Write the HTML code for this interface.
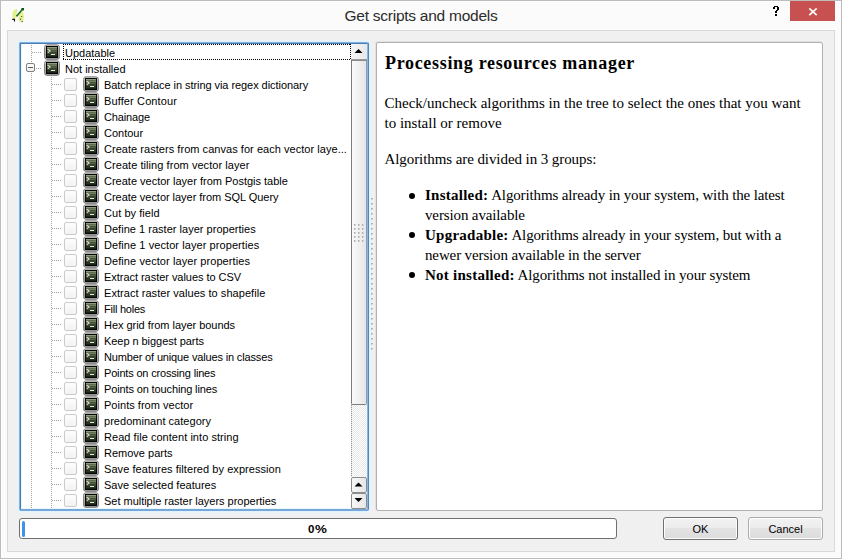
<!DOCTYPE html>
<html><head><meta charset="utf-8">
<style>
*{margin:0;padding:0;box-sizing:border-box}
html,body{width:842px;height:559px;overflow:hidden;background:#fafafa}
body{position:relative;font-family:"Liberation Sans",sans-serif}
.abs{position:absolute}
#frame{left:0;top:0;width:842px;height:559px;border:1px solid #bcbcbc;background:#fbfbfb;box-shadow:inset 1px 1px 0 #fff}
#title{left:0;top:6px;width:842px;text-align:center;font-size:15.5px;letter-spacing:-0.25px;color:#2b2b2b;line-height:20px}
#help{left:771px;top:3px;font-size:14px;font-weight:bold;color:#000;line-height:18px}
#close{left:790px;top:1px;width:45px;height:20px;background:#c75050}
#client{left:7px;top:30px;width:828px;height:522px;border:1px solid #d9d9d9;background:#f0f0f0}
#treew{left:19px;top:42px;width:350px;height:469px;border:1px solid #84afdc;border-right-color:#5286c0;border-bottom-color:#78a6d8;border-radius:2px;box-shadow:0 0 0 1px #dff3fd,0 0 0 2px #eaf3f8}
#tree{left:20px;top:43px;width:348px;height:467px;border:1px solid #4a7db5;border-right-color:#8ab6e2;border-bottom-color:#78a6d8;background:#fff;box-shadow:inset 1px 0 0 #e6f9ff,inset 0 -1px 0 #e6f9ff;overflow:hidden}
#panel{left:376px;top:42px;width:447px;height:469px;border:1px solid #b0b0b0;border-radius:2px;box-shadow:-1px -1px 0 0 #e2e2e2;background:#fff;font-family:"Liberation Serif",serif;color:#000}
.row{position:absolute;height:16px;font-size:11px;line-height:16px;color:#000;white-space:nowrap}
.ico{position:absolute;width:16px;height:16px}
.cb{position:absolute;width:13px;height:13px;border:1px solid #cbcbcb;background:linear-gradient(#fdfdfd,#f2f2f2);border-radius:2px}
.vd{position:absolute;width:1px;background:repeating-linear-gradient(to bottom,#a3a3a3 0 1px,transparent 1px 2px)}
.hd{position:absolute;height:1px;background:repeating-linear-gradient(to right,#a3a3a3 0 1px,transparent 1px 2px)}
.box{position:absolute;width:9px;height:9px;border:1px solid #808080;border-radius:2px;background:linear-gradient(#fff,#ededed)}
.box::after{content:"";position:absolute;left:1px;top:3px;width:5px;height:1px;background:#5c5c5c}
.focus{position:absolute;background:repeating-linear-gradient(to right,#000 0 1px,transparent 1px 2px) top/100% 1px no-repeat,repeating-linear-gradient(to right,#000 0 1px,transparent 1px 2px) bottom/100% 1px no-repeat,repeating-linear-gradient(to bottom,#000 0 1px,transparent 1px 2px) left/1px 100% no-repeat,repeating-linear-gradient(to bottom,#000 0 1px,transparent 1px 2px) right/1px 100% no-repeat}
#sb{position:absolute;left:330px;top:0;width:16px;height:465px}
.sbtop{position:absolute;left:0;top:0;width:16px;height:16px;background:linear-gradient(to right,#f6f6f6,#e8e8e8);border-bottom:1px solid #9a9a9a}
.thumb{position:absolute;left:0;top:16px;width:16px;height:345px;border:1px solid #7c7c7c;border-top-color:#8a8a8a;border-right-color:#8a9cb0;border-radius:0 0 2px 2px;background:linear-gradient(to right,#fafafa,#e6e6e6)}
.track{position:absolute;left:0;top:361px;width:16px;height:72px;background-color:#fff;background-image:linear-gradient(45deg,#e8e8e8 25%,transparent 25%,transparent 75%,#e8e8e8 75%),linear-gradient(45deg,#e8e8e8 25%,transparent 25%,transparent 75%,#e8e8e8 75%);background-size:2px 2px;background-position:0 0,1px 1px}
.track::before{content:"";position:absolute;left:0;top:0;width:1px;height:100%;background:repeating-linear-gradient(to bottom,#949494 0 1px,transparent 1px 2px)}
.sbtn{position:absolute;left:0;width:16px;height:16px;border:1px solid #8c8c8c;border-radius:2px;background:linear-gradient(to right,#f8f8f8,#e6e6e6)}
#prog{left:19px;top:518px;width:598px;height:21px;border:1px solid #707070;border-radius:3px;background:#fff}
#prog .chunk{position:absolute;left:1.5px;top:1.5px;width:3.5px;height:16px;border-radius:1.75px;background:#3d92ea}
#prog .txt{position:absolute;left:0;top:0;width:100%;text-align:center;font-size:11px;font-weight:bold;line-height:19px;color:#000}
.btn{position:absolute;height:23px;border:1px solid #acacac;border-radius:3px;box-shadow:inset 0 0 0 1px #fcfcfc;background:linear-gradient(#f3f3f3,#ececec 45%,#e3e3e3 50%,#dcdcdc);font-size:11px;text-align:center;line-height:23px;color:#000}
.li{position:absolute;left:48px;font-size:15px;line-height:20px;white-space:nowrap;letter-spacing:-0.13px}
.li b{letter-spacing:0.25px}
.bul{position:absolute;left:32px;width:6px;height:6px;border-radius:50%;background:#000}
</style></head><body>
<svg width="0" height="0" style="position:absolute">
 <defs>
  <linearGradient id="rim" x1="0" y1="0" x2="0" y2="1"><stop offset="0" stop-color="#cecece"/><stop offset="1" stop-color="#959595"/></linearGradient>
  <linearGradient id="scr" x1="0" y1="0" x2="0" y2="1"><stop offset="0" stop-color="#96a682"/><stop offset="0.45" stop-color="#505e42"/><stop offset="1" stop-color="#1c2416"/></linearGradient>
  
 </defs>
</svg>
<div id="frame" class="abs"></div>
<svg class="abs" style="left:6px;top:4px" width="24" height="24" viewBox="0 0 24 24">
 <path d="M9.5 5.2 C6.3 6 5.5 11.5 7.2 14.8 C8 15.5 9.2 14.6 10.2 13.2 L10.6 7 C10.5 5.8 10.1 5.2 9.5 5.2 Z" fill="#e3f08e"/>
 <path d="M15.8 7.5 C18.5 9 18.6 15.5 16.5 18 C14.6 18.6 12.5 17 12.2 15 L13.6 9.5 C14.2 8 15 7.3 15.8 7.5 Z" fill="#e6f290"/>
 <path d="M10 5.6 L11 6.2 M10.6 7.4 L11 8.3" stroke="#b8b8a8" stroke-width="0.8"/>
 <path d="M16.6 5.3 L10.4 12.4" stroke="#1d7418" stroke-width="1.6"/>
 <rect x="15.4" y="4" width="2.6" height="2.4" fill="#0f5c0c"/>
 <path d="M6.2 15.4 H8.5 V17.6" fill="none" stroke="#111" stroke-width="1.1"/>
 <rect x="15.2" y="12" width="1" height="1" fill="#3a3a3a"/><rect x="14" y="14.6" width="1.1" height="1.1" fill="#3a3a3a"/><rect x="15.6" y="17" width="1.1" height="1.1" fill="#3a3a3a"/>
</svg>
<div id="title" class="abs">Get scripts and models</div>
<svg class="abs" style="left:772px;top:6px" width="8" height="10"><g fill="#000">
<rect x="2" y="0" width="4" height="1"/><rect x="1" y="1" width="2" height="2"/><rect x="5" y="1" width="2" height="3"/>
<rect x="4" y="4" width="2" height="1"/><rect x="3" y="5" width="2" height="2"/><rect x="3" y="8" width="2" height="2"/></g></svg>
<div id="close" class="abs"><svg width="45" height="20" style="position:absolute;left:0;top:0"><path d="M19.3 7.3 L26.7 14.2 M26.7 7.3 L19.3 14.2" stroke="#fff" stroke-width="1.6"/></svg></div>
<div id="client" class="abs"></div>
<div id="treew" class="abs"></div>
<div id="tree" class="abs">
<div class="vd" style="left:10px;top:1px;height:18px"></div>
<div class="vd" style="left:10px;top:29px;height:435px"></div>
<div class="hd" style="left:11px;top:8px;width:9px"></div>
<div class="box" style="left:5px;top:19px"></div>
<div class="hd" style="left:15px;top:24px;width:5px"></div>
<div class="vd" style="left:30px;top:33px;height:431px"></div>
<svg class="ico" style="left:23px;top:0px" width="16" height="16" viewBox="0 0 16 16"><rect x="0.5" y="0.8" width="15" height="14.6" rx="2.6" fill="url(#rim)" stroke="#848484" stroke-width="1"/> <rect x="2" y="2" width="12" height="12" fill="#050505"/> <rect x="3" y="3" width="10" height="10" fill="url(#scr)"/> <g fill="#000" opacity="0.22"><rect x="3" y="4" width="10" height="1"/><rect x="3" y="6" width="10" height="1"/><rect x="3" y="8" width="10" height="1"/><rect x="3" y="10" width="10" height="1"/><rect x="3" y="12" width="10" height="1"/></g> <path d="M3.7 5.3 L6.1 7.1 L3.7 8.9" fill="none" stroke="#d4dec4" stroke-width="1.1"/> <rect x="7" y="10" width="4" height="1" fill="#e4ecd8"/></svg>
<div class="row" style="left:44px;top:1px">Updatable</div>
<svg class="ico" style="left:23px;top:16px" width="16" height="16" viewBox="0 0 16 16"><rect x="0.5" y="0.8" width="15" height="14.6" rx="2.6" fill="url(#rim)" stroke="#848484" stroke-width="1"/> <rect x="2" y="2" width="12" height="12" fill="#050505"/> <rect x="3" y="3" width="10" height="10" fill="url(#scr)"/> <g fill="#000" opacity="0.22"><rect x="3" y="4" width="10" height="1"/><rect x="3" y="6" width="10" height="1"/><rect x="3" y="8" width="10" height="1"/><rect x="3" y="10" width="10" height="1"/><rect x="3" y="12" width="10" height="1"/></g> <path d="M3.7 5.3 L6.1 7.1 L3.7 8.9" fill="none" stroke="#d4dec4" stroke-width="1.1"/> <rect x="7" y="10" width="4" height="1" fill="#e4ecd8"/></svg>
<div class="row" style="left:44px;top:17px">Not installed</div>
<div class="focus" style="left:42px;top:0px;width:288px;height:16px"></div>
<div class="hd" style="left:31px;top:40px;width:9px"></div>
<div class="cb" style="left:43px;top:34px"></div>
<svg class="ico" style="left:62px;top:32px" width="16" height="16" viewBox="0 0 16 16"><rect x="0.5" y="0.8" width="15" height="14.6" rx="2.6" fill="url(#rim)" stroke="#848484" stroke-width="1"/> <rect x="2" y="2" width="12" height="12" fill="#050505"/> <rect x="3" y="3" width="10" height="10" fill="url(#scr)"/> <g fill="#000" opacity="0.22"><rect x="3" y="4" width="10" height="1"/><rect x="3" y="6" width="10" height="1"/><rect x="3" y="8" width="10" height="1"/><rect x="3" y="10" width="10" height="1"/><rect x="3" y="12" width="10" height="1"/></g> <path d="M3.7 5.3 L6.1 7.1 L3.7 8.9" fill="none" stroke="#d4dec4" stroke-width="1.1"/> <rect x="7" y="10" width="4" height="1" fill="#e4ecd8"/></svg>
<div class="row" style="left:83px;top:33px;letter-spacing:-0.058px">Batch replace in string via regex dictionary</div>
<div class="hd" style="left:31px;top:56px;width:9px"></div>
<div class="cb" style="left:43px;top:50px"></div>
<svg class="ico" style="left:62px;top:48px" width="16" height="16" viewBox="0 0 16 16"><rect x="0.5" y="0.8" width="15" height="14.6" rx="2.6" fill="url(#rim)" stroke="#848484" stroke-width="1"/> <rect x="2" y="2" width="12" height="12" fill="#050505"/> <rect x="3" y="3" width="10" height="10" fill="url(#scr)"/> <g fill="#000" opacity="0.22"><rect x="3" y="4" width="10" height="1"/><rect x="3" y="6" width="10" height="1"/><rect x="3" y="8" width="10" height="1"/><rect x="3" y="10" width="10" height="1"/><rect x="3" y="12" width="10" height="1"/></g> <path d="M3.7 5.3 L6.1 7.1 L3.7 8.9" fill="none" stroke="#d4dec4" stroke-width="1.1"/> <rect x="7" y="10" width="4" height="1" fill="#e4ecd8"/></svg>
<div class="row" style="left:83px;top:49px;letter-spacing:0.123px">Buffer Contour</div>
<div class="hd" style="left:31px;top:72px;width:9px"></div>
<div class="cb" style="left:43px;top:66px"></div>
<svg class="ico" style="left:62px;top:64px" width="16" height="16" viewBox="0 0 16 16"><rect x="0.5" y="0.8" width="15" height="14.6" rx="2.6" fill="url(#rim)" stroke="#848484" stroke-width="1"/> <rect x="2" y="2" width="12" height="12" fill="#050505"/> <rect x="3" y="3" width="10" height="10" fill="url(#scr)"/> <g fill="#000" opacity="0.22"><rect x="3" y="4" width="10" height="1"/><rect x="3" y="6" width="10" height="1"/><rect x="3" y="8" width="10" height="1"/><rect x="3" y="10" width="10" height="1"/><rect x="3" y="12" width="10" height="1"/></g> <path d="M3.7 5.3 L6.1 7.1 L3.7 8.9" fill="none" stroke="#d4dec4" stroke-width="1.1"/> <rect x="7" y="10" width="4" height="1" fill="#e4ecd8"/></svg>
<div class="row" style="left:83px;top:65px;letter-spacing:-0.143px">Chainage</div>
<div class="hd" style="left:31px;top:88px;width:9px"></div>
<div class="cb" style="left:43px;top:82px"></div>
<svg class="ico" style="left:62px;top:80px" width="16" height="16" viewBox="0 0 16 16"><rect x="0.5" y="0.8" width="15" height="14.6" rx="2.6" fill="url(#rim)" stroke="#848484" stroke-width="1"/> <rect x="2" y="2" width="12" height="12" fill="#050505"/> <rect x="3" y="3" width="10" height="10" fill="url(#scr)"/> <g fill="#000" opacity="0.22"><rect x="3" y="4" width="10" height="1"/><rect x="3" y="6" width="10" height="1"/><rect x="3" y="8" width="10" height="1"/><rect x="3" y="10" width="10" height="1"/><rect x="3" y="12" width="10" height="1"/></g> <path d="M3.7 5.3 L6.1 7.1 L3.7 8.9" fill="none" stroke="#d4dec4" stroke-width="1.1"/> <rect x="7" y="10" width="4" height="1" fill="#e4ecd8"/></svg>
<div class="row" style="left:83px;top:81px;letter-spacing:0.000px">Contour</div>
<div class="hd" style="left:31px;top:104px;width:9px"></div>
<div class="cb" style="left:43px;top:98px"></div>
<svg class="ico" style="left:62px;top:96px" width="16" height="16" viewBox="0 0 16 16"><rect x="0.5" y="0.8" width="15" height="14.6" rx="2.6" fill="url(#rim)" stroke="#848484" stroke-width="1"/> <rect x="2" y="2" width="12" height="12" fill="#050505"/> <rect x="3" y="3" width="10" height="10" fill="url(#scr)"/> <g fill="#000" opacity="0.22"><rect x="3" y="4" width="10" height="1"/><rect x="3" y="6" width="10" height="1"/><rect x="3" y="8" width="10" height="1"/><rect x="3" y="10" width="10" height="1"/><rect x="3" y="12" width="10" height="1"/></g> <path d="M3.7 5.3 L6.1 7.1 L3.7 8.9" fill="none" stroke="#d4dec4" stroke-width="1.1"/> <rect x="7" y="10" width="4" height="1" fill="#e4ecd8"/></svg>
<div class="row" style="left:83px;top:97px;letter-spacing:0.041px">Create rasters from canvas for each vector laye...</div>
<div class="hd" style="left:31px;top:120px;width:9px"></div>
<div class="cb" style="left:43px;top:114px"></div>
<svg class="ico" style="left:62px;top:112px" width="16" height="16" viewBox="0 0 16 16"><rect x="0.5" y="0.8" width="15" height="14.6" rx="2.6" fill="url(#rim)" stroke="#848484" stroke-width="1"/> <rect x="2" y="2" width="12" height="12" fill="#050505"/> <rect x="3" y="3" width="10" height="10" fill="url(#scr)"/> <g fill="#000" opacity="0.22"><rect x="3" y="4" width="10" height="1"/><rect x="3" y="6" width="10" height="1"/><rect x="3" y="8" width="10" height="1"/><rect x="3" y="10" width="10" height="1"/><rect x="3" y="12" width="10" height="1"/></g> <path d="M3.7 5.3 L6.1 7.1 L3.7 8.9" fill="none" stroke="#d4dec4" stroke-width="1.1"/> <rect x="7" y="10" width="4" height="1" fill="#e4ecd8"/></svg>
<div class="row" style="left:83px;top:113px;letter-spacing:0.057px">Create tiling from vector layer</div>
<div class="hd" style="left:31px;top:136px;width:9px"></div>
<div class="cb" style="left:43px;top:130px"></div>
<svg class="ico" style="left:62px;top:128px" width="16" height="16" viewBox="0 0 16 16"><rect x="0.5" y="0.8" width="15" height="14.6" rx="2.6" fill="url(#rim)" stroke="#848484" stroke-width="1"/> <rect x="2" y="2" width="12" height="12" fill="#050505"/> <rect x="3" y="3" width="10" height="10" fill="url(#scr)"/> <g fill="#000" opacity="0.22"><rect x="3" y="4" width="10" height="1"/><rect x="3" y="6" width="10" height="1"/><rect x="3" y="8" width="10" height="1"/><rect x="3" y="10" width="10" height="1"/><rect x="3" y="12" width="10" height="1"/></g> <path d="M3.7 5.3 L6.1 7.1 L3.7 8.9" fill="none" stroke="#d4dec4" stroke-width="1.1"/> <rect x="7" y="10" width="4" height="1" fill="#e4ecd8"/></svg>
<div class="row" style="left:83px;top:129px;letter-spacing:-0.003px">Create vector layer from Postgis table</div>
<div class="hd" style="left:31px;top:152px;width:9px"></div>
<div class="cb" style="left:43px;top:146px"></div>
<svg class="ico" style="left:62px;top:144px" width="16" height="16" viewBox="0 0 16 16"><rect x="0.5" y="0.8" width="15" height="14.6" rx="2.6" fill="url(#rim)" stroke="#848484" stroke-width="1"/> <rect x="2" y="2" width="12" height="12" fill="#050505"/> <rect x="3" y="3" width="10" height="10" fill="url(#scr)"/> <g fill="#000" opacity="0.22"><rect x="3" y="4" width="10" height="1"/><rect x="3" y="6" width="10" height="1"/><rect x="3" y="8" width="10" height="1"/><rect x="3" y="10" width="10" height="1"/><rect x="3" y="12" width="10" height="1"/></g> <path d="M3.7 5.3 L6.1 7.1 L3.7 8.9" fill="none" stroke="#d4dec4" stroke-width="1.1"/> <rect x="7" y="10" width="4" height="1" fill="#e4ecd8"/></svg>
<div class="row" style="left:83px;top:145px;letter-spacing:-0.033px">Create vector layer from SQL Query</div>
<div class="hd" style="left:31px;top:168px;width:9px"></div>
<div class="cb" style="left:43px;top:162px"></div>
<svg class="ico" style="left:62px;top:160px" width="16" height="16" viewBox="0 0 16 16"><rect x="0.5" y="0.8" width="15" height="14.6" rx="2.6" fill="url(#rim)" stroke="#848484" stroke-width="1"/> <rect x="2" y="2" width="12" height="12" fill="#050505"/> <rect x="3" y="3" width="10" height="10" fill="url(#scr)"/> <g fill="#000" opacity="0.22"><rect x="3" y="4" width="10" height="1"/><rect x="3" y="6" width="10" height="1"/><rect x="3" y="8" width="10" height="1"/><rect x="3" y="10" width="10" height="1"/><rect x="3" y="12" width="10" height="1"/></g> <path d="M3.7 5.3 L6.1 7.1 L3.7 8.9" fill="none" stroke="#d4dec4" stroke-width="1.1"/> <rect x="7" y="10" width="4" height="1" fill="#e4ecd8"/></svg>
<div class="row" style="left:83px;top:161px;letter-spacing:0.055px">Cut by field</div>
<div class="hd" style="left:31px;top:184px;width:9px"></div>
<div class="cb" style="left:43px;top:178px"></div>
<svg class="ico" style="left:62px;top:176px" width="16" height="16" viewBox="0 0 16 16"><rect x="0.5" y="0.8" width="15" height="14.6" rx="2.6" fill="url(#rim)" stroke="#848484" stroke-width="1"/> <rect x="2" y="2" width="12" height="12" fill="#050505"/> <rect x="3" y="3" width="10" height="10" fill="url(#scr)"/> <g fill="#000" opacity="0.22"><rect x="3" y="4" width="10" height="1"/><rect x="3" y="6" width="10" height="1"/><rect x="3" y="8" width="10" height="1"/><rect x="3" y="10" width="10" height="1"/><rect x="3" y="12" width="10" height="1"/></g> <path d="M3.7 5.3 L6.1 7.1 L3.7 8.9" fill="none" stroke="#d4dec4" stroke-width="1.1"/> <rect x="7" y="10" width="4" height="1" fill="#e4ecd8"/></svg>
<div class="row" style="left:83px;top:177px;letter-spacing:0.023px">Define 1 raster layer properties</div>
<div class="hd" style="left:31px;top:200px;width:9px"></div>
<div class="cb" style="left:43px;top:194px"></div>
<svg class="ico" style="left:62px;top:192px" width="16" height="16" viewBox="0 0 16 16"><rect x="0.5" y="0.8" width="15" height="14.6" rx="2.6" fill="url(#rim)" stroke="#848484" stroke-width="1"/> <rect x="2" y="2" width="12" height="12" fill="#050505"/> <rect x="3" y="3" width="10" height="10" fill="url(#scr)"/> <g fill="#000" opacity="0.22"><rect x="3" y="4" width="10" height="1"/><rect x="3" y="6" width="10" height="1"/><rect x="3" y="8" width="10" height="1"/><rect x="3" y="10" width="10" height="1"/><rect x="3" y="12" width="10" height="1"/></g> <path d="M3.7 5.3 L6.1 7.1 L3.7 8.9" fill="none" stroke="#d4dec4" stroke-width="1.1"/> <rect x="7" y="10" width="4" height="1" fill="#e4ecd8"/></svg>
<div class="row" style="left:83px;top:193px;letter-spacing:0.074px">Define 1 vector layer properties</div>
<div class="hd" style="left:31px;top:216px;width:9px"></div>
<div class="cb" style="left:43px;top:210px"></div>
<svg class="ico" style="left:62px;top:208px" width="16" height="16" viewBox="0 0 16 16"><rect x="0.5" y="0.8" width="15" height="14.6" rx="2.6" fill="url(#rim)" stroke="#848484" stroke-width="1"/> <rect x="2" y="2" width="12" height="12" fill="#050505"/> <rect x="3" y="3" width="10" height="10" fill="url(#scr)"/> <g fill="#000" opacity="0.22"><rect x="3" y="4" width="10" height="1"/><rect x="3" y="6" width="10" height="1"/><rect x="3" y="8" width="10" height="1"/><rect x="3" y="10" width="10" height="1"/><rect x="3" y="12" width="10" height="1"/></g> <path d="M3.7 5.3 L6.1 7.1 L3.7 8.9" fill="none" stroke="#d4dec4" stroke-width="1.1"/> <rect x="7" y="10" width="4" height="1" fill="#e4ecd8"/></svg>
<div class="row" style="left:83px;top:209px;letter-spacing:0.076px">Define vector layer properties</div>
<div class="hd" style="left:31px;top:232px;width:9px"></div>
<div class="cb" style="left:43px;top:226px"></div>
<svg class="ico" style="left:62px;top:224px" width="16" height="16" viewBox="0 0 16 16"><rect x="0.5" y="0.8" width="15" height="14.6" rx="2.6" fill="url(#rim)" stroke="#848484" stroke-width="1"/> <rect x="2" y="2" width="12" height="12" fill="#050505"/> <rect x="3" y="3" width="10" height="10" fill="url(#scr)"/> <g fill="#000" opacity="0.22"><rect x="3" y="4" width="10" height="1"/><rect x="3" y="6" width="10" height="1"/><rect x="3" y="8" width="10" height="1"/><rect x="3" y="10" width="10" height="1"/><rect x="3" y="12" width="10" height="1"/></g> <path d="M3.7 5.3 L6.1 7.1 L3.7 8.9" fill="none" stroke="#d4dec4" stroke-width="1.1"/> <rect x="7" y="10" width="4" height="1" fill="#e4ecd8"/></svg>
<div class="row" style="left:83px;top:225px;letter-spacing:-0.037px">Extract raster values to CSV</div>
<div class="hd" style="left:31px;top:248px;width:9px"></div>
<div class="cb" style="left:43px;top:242px"></div>
<svg class="ico" style="left:62px;top:240px" width="16" height="16" viewBox="0 0 16 16"><rect x="0.5" y="0.8" width="15" height="14.6" rx="2.6" fill="url(#rim)" stroke="#848484" stroke-width="1"/> <rect x="2" y="2" width="12" height="12" fill="#050505"/> <rect x="3" y="3" width="10" height="10" fill="url(#scr)"/> <g fill="#000" opacity="0.22"><rect x="3" y="4" width="10" height="1"/><rect x="3" y="6" width="10" height="1"/><rect x="3" y="8" width="10" height="1"/><rect x="3" y="10" width="10" height="1"/><rect x="3" y="12" width="10" height="1"/></g> <path d="M3.7 5.3 L6.1 7.1 L3.7 8.9" fill="none" stroke="#d4dec4" stroke-width="1.1"/> <rect x="7" y="10" width="4" height="1" fill="#e4ecd8"/></svg>
<div class="row" style="left:83px;top:241px;letter-spacing:0.052px">Extract raster values to shapefile</div>
<div class="hd" style="left:31px;top:264px;width:9px"></div>
<div class="cb" style="left:43px;top:258px"></div>
<svg class="ico" style="left:62px;top:256px" width="16" height="16" viewBox="0 0 16 16"><rect x="0.5" y="0.8" width="15" height="14.6" rx="2.6" fill="url(#rim)" stroke="#848484" stroke-width="1"/> <rect x="2" y="2" width="12" height="12" fill="#050505"/> <rect x="3" y="3" width="10" height="10" fill="url(#scr)"/> <g fill="#000" opacity="0.22"><rect x="3" y="4" width="10" height="1"/><rect x="3" y="6" width="10" height="1"/><rect x="3" y="8" width="10" height="1"/><rect x="3" y="10" width="10" height="1"/><rect x="3" y="12" width="10" height="1"/></g> <path d="M3.7 5.3 L6.1 7.1 L3.7 8.9" fill="none" stroke="#d4dec4" stroke-width="1.1"/> <rect x="7" y="10" width="4" height="1" fill="#e4ecd8"/></svg>
<div class="row" style="left:83px;top:257px;letter-spacing:-0.233px">Fill holes</div>
<div class="hd" style="left:31px;top:280px;width:9px"></div>
<div class="cb" style="left:43px;top:274px"></div>
<svg class="ico" style="left:62px;top:272px" width="16" height="16" viewBox="0 0 16 16"><rect x="0.5" y="0.8" width="15" height="14.6" rx="2.6" fill="url(#rim)" stroke="#848484" stroke-width="1"/> <rect x="2" y="2" width="12" height="12" fill="#050505"/> <rect x="3" y="3" width="10" height="10" fill="url(#scr)"/> <g fill="#000" opacity="0.22"><rect x="3" y="4" width="10" height="1"/><rect x="3" y="6" width="10" height="1"/><rect x="3" y="8" width="10" height="1"/><rect x="3" y="10" width="10" height="1"/><rect x="3" y="12" width="10" height="1"/></g> <path d="M3.7 5.3 L6.1 7.1 L3.7 8.9" fill="none" stroke="#d4dec4" stroke-width="1.1"/> <rect x="7" y="10" width="4" height="1" fill="#e4ecd8"/></svg>
<div class="row" style="left:83px;top:273px;letter-spacing:-0.040px">Hex grid from layer bounds</div>
<div class="hd" style="left:31px;top:296px;width:9px"></div>
<div class="cb" style="left:43px;top:290px"></div>
<svg class="ico" style="left:62px;top:288px" width="16" height="16" viewBox="0 0 16 16"><rect x="0.5" y="0.8" width="15" height="14.6" rx="2.6" fill="url(#rim)" stroke="#848484" stroke-width="1"/> <rect x="2" y="2" width="12" height="12" fill="#050505"/> <rect x="3" y="3" width="10" height="10" fill="url(#scr)"/> <g fill="#000" opacity="0.22"><rect x="3" y="4" width="10" height="1"/><rect x="3" y="6" width="10" height="1"/><rect x="3" y="8" width="10" height="1"/><rect x="3" y="10" width="10" height="1"/><rect x="3" y="12" width="10" height="1"/></g> <path d="M3.7 5.3 L6.1 7.1 L3.7 8.9" fill="none" stroke="#d4dec4" stroke-width="1.1"/> <rect x="7" y="10" width="4" height="1" fill="#e4ecd8"/></svg>
<div class="row" style="left:83px;top:289px;letter-spacing:-0.053px">Keep n biggest parts</div>
<div class="hd" style="left:31px;top:312px;width:9px"></div>
<div class="cb" style="left:43px;top:306px"></div>
<svg class="ico" style="left:62px;top:304px" width="16" height="16" viewBox="0 0 16 16"><rect x="0.5" y="0.8" width="15" height="14.6" rx="2.6" fill="url(#rim)" stroke="#848484" stroke-width="1"/> <rect x="2" y="2" width="12" height="12" fill="#050505"/> <rect x="3" y="3" width="10" height="10" fill="url(#scr)"/> <g fill="#000" opacity="0.22"><rect x="3" y="4" width="10" height="1"/><rect x="3" y="6" width="10" height="1"/><rect x="3" y="8" width="10" height="1"/><rect x="3" y="10" width="10" height="1"/><rect x="3" y="12" width="10" height="1"/></g> <path d="M3.7 5.3 L6.1 7.1 L3.7 8.9" fill="none" stroke="#d4dec4" stroke-width="1.1"/> <rect x="7" y="10" width="4" height="1" fill="#e4ecd8"/></svg>
<div class="row" style="left:83px;top:305px;letter-spacing:-0.152px">Number of unique values in classes</div>
<div class="hd" style="left:31px;top:328px;width:9px"></div>
<div class="cb" style="left:43px;top:322px"></div>
<svg class="ico" style="left:62px;top:320px" width="16" height="16" viewBox="0 0 16 16"><rect x="0.5" y="0.8" width="15" height="14.6" rx="2.6" fill="url(#rim)" stroke="#848484" stroke-width="1"/> <rect x="2" y="2" width="12" height="12" fill="#050505"/> <rect x="3" y="3" width="10" height="10" fill="url(#scr)"/> <g fill="#000" opacity="0.22"><rect x="3" y="4" width="10" height="1"/><rect x="3" y="6" width="10" height="1"/><rect x="3" y="8" width="10" height="1"/><rect x="3" y="10" width="10" height="1"/><rect x="3" y="12" width="10" height="1"/></g> <path d="M3.7 5.3 L6.1 7.1 L3.7 8.9" fill="none" stroke="#d4dec4" stroke-width="1.1"/> <rect x="7" y="10" width="4" height="1" fill="#e4ecd8"/></svg>
<div class="row" style="left:83px;top:321px;letter-spacing:-0.174px">Points on crossing lines</div>
<div class="hd" style="left:31px;top:344px;width:9px"></div>
<div class="cb" style="left:43px;top:338px"></div>
<svg class="ico" style="left:62px;top:336px" width="16" height="16" viewBox="0 0 16 16"><rect x="0.5" y="0.8" width="15" height="14.6" rx="2.6" fill="url(#rim)" stroke="#848484" stroke-width="1"/> <rect x="2" y="2" width="12" height="12" fill="#050505"/> <rect x="3" y="3" width="10" height="10" fill="url(#scr)"/> <g fill="#000" opacity="0.22"><rect x="3" y="4" width="10" height="1"/><rect x="3" y="6" width="10" height="1"/><rect x="3" y="8" width="10" height="1"/><rect x="3" y="10" width="10" height="1"/><rect x="3" y="12" width="10" height="1"/></g> <path d="M3.7 5.3 L6.1 7.1 L3.7 8.9" fill="none" stroke="#d4dec4" stroke-width="1.1"/> <rect x="7" y="10" width="4" height="1" fill="#e4ecd8"/></svg>
<div class="row" style="left:83px;top:337px;letter-spacing:-0.130px">Points on touching lines</div>
<div class="hd" style="left:31px;top:360px;width:9px"></div>
<div class="cb" style="left:43px;top:354px"></div>
<svg class="ico" style="left:62px;top:352px" width="16" height="16" viewBox="0 0 16 16"><rect x="0.5" y="0.8" width="15" height="14.6" rx="2.6" fill="url(#rim)" stroke="#848484" stroke-width="1"/> <rect x="2" y="2" width="12" height="12" fill="#050505"/> <rect x="3" y="3" width="10" height="10" fill="url(#scr)"/> <g fill="#000" opacity="0.22"><rect x="3" y="4" width="10" height="1"/><rect x="3" y="6" width="10" height="1"/><rect x="3" y="8" width="10" height="1"/><rect x="3" y="10" width="10" height="1"/><rect x="3" y="12" width="10" height="1"/></g> <path d="M3.7 5.3 L6.1 7.1 L3.7 8.9" fill="none" stroke="#d4dec4" stroke-width="1.1"/> <rect x="7" y="10" width="4" height="1" fill="#e4ecd8"/></svg>
<div class="row" style="left:83px;top:353px;letter-spacing:0.029px">Points from vector</div>
<div class="hd" style="left:31px;top:376px;width:9px"></div>
<div class="cb" style="left:43px;top:370px"></div>
<svg class="ico" style="left:62px;top:368px" width="16" height="16" viewBox="0 0 16 16"><rect x="0.5" y="0.8" width="15" height="14.6" rx="2.6" fill="url(#rim)" stroke="#848484" stroke-width="1"/> <rect x="2" y="2" width="12" height="12" fill="#050505"/> <rect x="3" y="3" width="10" height="10" fill="url(#scr)"/> <g fill="#000" opacity="0.22"><rect x="3" y="4" width="10" height="1"/><rect x="3" y="6" width="10" height="1"/><rect x="3" y="8" width="10" height="1"/><rect x="3" y="10" width="10" height="1"/><rect x="3" y="12" width="10" height="1"/></g> <path d="M3.7 5.3 L6.1 7.1 L3.7 8.9" fill="none" stroke="#d4dec4" stroke-width="1.1"/> <rect x="7" y="10" width="4" height="1" fill="#e4ecd8"/></svg>
<div class="row" style="left:83px;top:369px;letter-spacing:0.032px">predominant category</div>
<div class="hd" style="left:31px;top:392px;width:9px"></div>
<div class="cb" style="left:43px;top:386px"></div>
<svg class="ico" style="left:62px;top:384px" width="16" height="16" viewBox="0 0 16 16"><rect x="0.5" y="0.8" width="15" height="14.6" rx="2.6" fill="url(#rim)" stroke="#848484" stroke-width="1"/> <rect x="2" y="2" width="12" height="12" fill="#050505"/> <rect x="3" y="3" width="10" height="10" fill="url(#scr)"/> <g fill="#000" opacity="0.22"><rect x="3" y="4" width="10" height="1"/><rect x="3" y="6" width="10" height="1"/><rect x="3" y="8" width="10" height="1"/><rect x="3" y="10" width="10" height="1"/><rect x="3" y="12" width="10" height="1"/></g> <path d="M3.7 5.3 L6.1 7.1 L3.7 8.9" fill="none" stroke="#d4dec4" stroke-width="1.1"/> <rect x="7" y="10" width="4" height="1" fill="#e4ecd8"/></svg>
<div class="row" style="left:83px;top:385px;letter-spacing:0.043px">Read file content into string</div>
<div class="hd" style="left:31px;top:408px;width:9px"></div>
<div class="cb" style="left:43px;top:402px"></div>
<svg class="ico" style="left:62px;top:400px" width="16" height="16" viewBox="0 0 16 16"><rect x="0.5" y="0.8" width="15" height="14.6" rx="2.6" fill="url(#rim)" stroke="#848484" stroke-width="1"/> <rect x="2" y="2" width="12" height="12" fill="#050505"/> <rect x="3" y="3" width="10" height="10" fill="url(#scr)"/> <g fill="#000" opacity="0.22"><rect x="3" y="4" width="10" height="1"/><rect x="3" y="6" width="10" height="1"/><rect x="3" y="8" width="10" height="1"/><rect x="3" y="10" width="10" height="1"/><rect x="3" y="12" width="10" height="1"/></g> <path d="M3.7 5.3 L6.1 7.1 L3.7 8.9" fill="none" stroke="#d4dec4" stroke-width="1.1"/> <rect x="7" y="10" width="4" height="1" fill="#e4ecd8"/></svg>
<div class="row" style="left:83px;top:401px;letter-spacing:0.000px">Remove parts</div>
<div class="hd" style="left:31px;top:424px;width:9px"></div>
<div class="cb" style="left:43px;top:418px"></div>
<svg class="ico" style="left:62px;top:416px" width="16" height="16" viewBox="0 0 16 16"><rect x="0.5" y="0.8" width="15" height="14.6" rx="2.6" fill="url(#rim)" stroke="#848484" stroke-width="1"/> <rect x="2" y="2" width="12" height="12" fill="#050505"/> <rect x="3" y="3" width="10" height="10" fill="url(#scr)"/> <g fill="#000" opacity="0.22"><rect x="3" y="4" width="10" height="1"/><rect x="3" y="6" width="10" height="1"/><rect x="3" y="8" width="10" height="1"/><rect x="3" y="10" width="10" height="1"/><rect x="3" y="12" width="10" height="1"/></g> <path d="M3.7 5.3 L6.1 7.1 L3.7 8.9" fill="none" stroke="#d4dec4" stroke-width="1.1"/> <rect x="7" y="10" width="4" height="1" fill="#e4ecd8"/></svg>
<div class="row" style="left:83px;top:417px;letter-spacing:0.057px">Save features filtered by expression</div>
<div class="hd" style="left:31px;top:440px;width:9px"></div>
<div class="cb" style="left:43px;top:434px"></div>
<svg class="ico" style="left:62px;top:432px" width="16" height="16" viewBox="0 0 16 16"><rect x="0.5" y="0.8" width="15" height="14.6" rx="2.6" fill="url(#rim)" stroke="#848484" stroke-width="1"/> <rect x="2" y="2" width="12" height="12" fill="#050505"/> <rect x="3" y="3" width="10" height="10" fill="url(#scr)"/> <g fill="#000" opacity="0.22"><rect x="3" y="4" width="10" height="1"/><rect x="3" y="6" width="10" height="1"/><rect x="3" y="8" width="10" height="1"/><rect x="3" y="10" width="10" height="1"/><rect x="3" y="12" width="10" height="1"/></g> <path d="M3.7 5.3 L6.1 7.1 L3.7 8.9" fill="none" stroke="#d4dec4" stroke-width="1.1"/> <rect x="7" y="10" width="4" height="1" fill="#e4ecd8"/></svg>
<div class="row" style="left:83px;top:433px;letter-spacing:0.014px">Save selected features</div>
<div class="hd" style="left:31px;top:456px;width:9px"></div>
<div class="cb" style="left:43px;top:450px"></div>
<svg class="ico" style="left:62px;top:448px" width="16" height="16" viewBox="0 0 16 16"><rect x="0.5" y="0.8" width="15" height="14.6" rx="2.6" fill="url(#rim)" stroke="#848484" stroke-width="1"/> <rect x="2" y="2" width="12" height="12" fill="#050505"/> <rect x="3" y="3" width="10" height="10" fill="url(#scr)"/> <g fill="#000" opacity="0.22"><rect x="3" y="4" width="10" height="1"/><rect x="3" y="6" width="10" height="1"/><rect x="3" y="8" width="10" height="1"/><rect x="3" y="10" width="10" height="1"/><rect x="3" y="12" width="10" height="1"/></g> <path d="M3.7 5.3 L6.1 7.1 L3.7 8.9" fill="none" stroke="#d4dec4" stroke-width="1.1"/> <rect x="7" y="10" width="4" height="1" fill="#e4ecd8"/></svg>
<div class="row" style="left:83px;top:449px;letter-spacing:-0.019px">Set multiple raster layers properties</div>
<div id="sb">
 <div class="sbtop"><svg width="16" height="16" style="position:absolute;left:0;top:0"><path d="M3.5 9 L11.5 9 L7.5 5 Z" fill="#000"/></svg></div>
 <div class="thumb"><svg width="14" height="20" style="position:absolute;left:1px;top:163px">
  <g fill="#a6a6a6"><rect x="1" y="0" width="1" height="1"/><rect x="5" y="0" width="1" height="1"/><rect x="9" y="0" width="1" height="1"/>
  <rect x="1" y="4" width="1" height="1"/><rect x="5" y="4" width="1" height="1"/><rect x="9" y="4" width="1" height="1"/>
  <rect x="1" y="8" width="1" height="1"/><rect x="5" y="8" width="1" height="1"/><rect x="9" y="8" width="1" height="1"/>
  <rect x="1" y="12" width="1" height="1"/><rect x="5" y="12" width="1" height="1"/><rect x="9" y="12" width="1" height="1"/>
  <rect x="1" y="16" width="1" height="1"/><rect x="5" y="16" width="1" height="1"/><rect x="9" y="16" width="1" height="1"/></g>
  <g fill="#d4d4d4"><rect x="2" y="0" width="1" height="2"/><rect x="6" y="0" width="1" height="2"/><rect x="10" y="0" width="1" height="2"/>
  <rect x="2" y="4" width="1" height="2"/><rect x="6" y="4" width="1" height="2"/><rect x="10" y="4" width="1" height="2"/>
  <rect x="2" y="8" width="1" height="2"/><rect x="6" y="8" width="1" height="2"/><rect x="10" y="8" width="1" height="2"/>
  <rect x="2" y="12" width="1" height="2"/><rect x="6" y="12" width="1" height="2"/><rect x="10" y="12" width="1" height="2"/>
  <rect x="2" y="16" width="1" height="2"/><rect x="6" y="16" width="1" height="2"/><rect x="10" y="16" width="1" height="2"/></g>
  <g fill="#c0c0c0"><rect x="1" y="1" width="1" height="1"/><rect x="5" y="1" width="1" height="1"/><rect x="9" y="1" width="1" height="1"/>
  <rect x="1" y="5" width="1" height="1"/><rect x="5" y="5" width="1" height="1"/><rect x="9" y="5" width="1" height="1"/>
  <rect x="1" y="9" width="1" height="1"/><rect x="5" y="9" width="1" height="1"/><rect x="9" y="9" width="1" height="1"/>
  <rect x="1" y="13" width="1" height="1"/><rect x="5" y="13" width="1" height="1"/><rect x="9" y="13" width="1" height="1"/>
  <rect x="1" y="17" width="1" height="1"/><rect x="5" y="17" width="1" height="1"/><rect x="9" y="17" width="1" height="1"/></g>
 </svg></div>
 <div class="track"></div>
 <div class="sbtn" style="top:433px"><svg width="16" height="16" style="position:absolute;left:-1px;top:-1px"><path d="M3.5 9.5 L11.5 9.5 L7.5 5.5 Z" fill="#000"/></svg></div>
 <div class="sbtn" style="top:449px"><svg width="16" height="16" style="position:absolute;left:-1px;top:-1px"><path d="M3.5 5 L11.5 5 L7.5 9 Z" fill="#000"/></svg></div>
</div>
</div>
<svg class="abs" style="left:370px;top:198px" width="4" height="155"><rect x="1" y="0" width="2" height="1" fill="#b4b4b4"/><rect x="1" y="1" width="1" height="1" fill="#c2c2c2"/><rect x="2" y="1" width="1" height="1" fill="#e2e2e2"/><rect x="1" y="5" width="2" height="1" fill="#b4b4b4"/><rect x="1" y="6" width="1" height="1" fill="#c2c2c2"/><rect x="2" y="6" width="1" height="1" fill="#e2e2e2"/><rect x="1" y="10" width="2" height="1" fill="#b4b4b4"/><rect x="1" y="11" width="1" height="1" fill="#c2c2c2"/><rect x="2" y="11" width="1" height="1" fill="#e2e2e2"/><rect x="1" y="15" width="2" height="1" fill="#b4b4b4"/><rect x="1" y="16" width="1" height="1" fill="#c2c2c2"/><rect x="2" y="16" width="1" height="1" fill="#e2e2e2"/><rect x="1" y="20" width="2" height="1" fill="#b4b4b4"/><rect x="1" y="21" width="1" height="1" fill="#c2c2c2"/><rect x="2" y="21" width="1" height="1" fill="#e2e2e2"/><rect x="1" y="25" width="2" height="1" fill="#b4b4b4"/><rect x="1" y="26" width="1" height="1" fill="#c2c2c2"/><rect x="2" y="26" width="1" height="1" fill="#e2e2e2"/><rect x="1" y="30" width="2" height="1" fill="#b4b4b4"/><rect x="1" y="31" width="1" height="1" fill="#c2c2c2"/><rect x="2" y="31" width="1" height="1" fill="#e2e2e2"/><rect x="1" y="35" width="2" height="1" fill="#b4b4b4"/><rect x="1" y="36" width="1" height="1" fill="#c2c2c2"/><rect x="2" y="36" width="1" height="1" fill="#e2e2e2"/><rect x="1" y="40" width="2" height="1" fill="#b4b4b4"/><rect x="1" y="41" width="1" height="1" fill="#c2c2c2"/><rect x="2" y="41" width="1" height="1" fill="#e2e2e2"/><rect x="1" y="45" width="2" height="1" fill="#b4b4b4"/><rect x="1" y="46" width="1" height="1" fill="#c2c2c2"/><rect x="2" y="46" width="1" height="1" fill="#e2e2e2"/><rect x="1" y="50" width="2" height="1" fill="#b4b4b4"/><rect x="1" y="51" width="1" height="1" fill="#c2c2c2"/><rect x="2" y="51" width="1" height="1" fill="#e2e2e2"/><rect x="1" y="55" width="2" height="1" fill="#b4b4b4"/><rect x="1" y="56" width="1" height="1" fill="#c2c2c2"/><rect x="2" y="56" width="1" height="1" fill="#e2e2e2"/><rect x="1" y="60" width="2" height="1" fill="#b4b4b4"/><rect x="1" y="61" width="1" height="1" fill="#c2c2c2"/><rect x="2" y="61" width="1" height="1" fill="#e2e2e2"/><rect x="1" y="65" width="2" height="1" fill="#b4b4b4"/><rect x="1" y="66" width="1" height="1" fill="#c2c2c2"/><rect x="2" y="66" width="1" height="1" fill="#e2e2e2"/><rect x="1" y="70" width="2" height="1" fill="#b4b4b4"/><rect x="1" y="71" width="1" height="1" fill="#c2c2c2"/><rect x="2" y="71" width="1" height="1" fill="#e2e2e2"/><rect x="1" y="75" width="2" height="1" fill="#b4b4b4"/><rect x="1" y="76" width="1" height="1" fill="#c2c2c2"/><rect x="2" y="76" width="1" height="1" fill="#e2e2e2"/><rect x="1" y="80" width="2" height="1" fill="#b4b4b4"/><rect x="1" y="81" width="1" height="1" fill="#c2c2c2"/><rect x="2" y="81" width="1" height="1" fill="#e2e2e2"/><rect x="1" y="85" width="2" height="1" fill="#b4b4b4"/><rect x="1" y="86" width="1" height="1" fill="#c2c2c2"/><rect x="2" y="86" width="1" height="1" fill="#e2e2e2"/><rect x="1" y="90" width="2" height="1" fill="#b4b4b4"/><rect x="1" y="91" width="1" height="1" fill="#c2c2c2"/><rect x="2" y="91" width="1" height="1" fill="#e2e2e2"/><rect x="1" y="95" width="2" height="1" fill="#b4b4b4"/><rect x="1" y="96" width="1" height="1" fill="#c2c2c2"/><rect x="2" y="96" width="1" height="1" fill="#e2e2e2"/><rect x="1" y="100" width="2" height="1" fill="#b4b4b4"/><rect x="1" y="101" width="1" height="1" fill="#c2c2c2"/><rect x="2" y="101" width="1" height="1" fill="#e2e2e2"/><rect x="1" y="105" width="2" height="1" fill="#b4b4b4"/><rect x="1" y="106" width="1" height="1" fill="#c2c2c2"/><rect x="2" y="106" width="1" height="1" fill="#e2e2e2"/><rect x="1" y="110" width="2" height="1" fill="#b4b4b4"/><rect x="1" y="111" width="1" height="1" fill="#c2c2c2"/><rect x="2" y="111" width="1" height="1" fill="#e2e2e2"/><rect x="1" y="115" width="2" height="1" fill="#b4b4b4"/><rect x="1" y="116" width="1" height="1" fill="#c2c2c2"/><rect x="2" y="116" width="1" height="1" fill="#e2e2e2"/><rect x="1" y="120" width="2" height="1" fill="#b4b4b4"/><rect x="1" y="121" width="1" height="1" fill="#c2c2c2"/><rect x="2" y="121" width="1" height="1" fill="#e2e2e2"/><rect x="1" y="125" width="2" height="1" fill="#b4b4b4"/><rect x="1" y="126" width="1" height="1" fill="#c2c2c2"/><rect x="2" y="126" width="1" height="1" fill="#e2e2e2"/><rect x="1" y="130" width="2" height="1" fill="#b4b4b4"/><rect x="1" y="131" width="1" height="1" fill="#c2c2c2"/><rect x="2" y="131" width="1" height="1" fill="#e2e2e2"/><rect x="1" y="135" width="2" height="1" fill="#b4b4b4"/><rect x="1" y="136" width="1" height="1" fill="#c2c2c2"/><rect x="2" y="136" width="1" height="1" fill="#e2e2e2"/><rect x="1" y="140" width="2" height="1" fill="#b4b4b4"/><rect x="1" y="141" width="1" height="1" fill="#c2c2c2"/><rect x="2" y="141" width="1" height="1" fill="#e2e2e2"/><rect x="1" y="145" width="2" height="1" fill="#b4b4b4"/><rect x="1" y="146" width="1" height="1" fill="#c2c2c2"/><rect x="2" y="146" width="1" height="1" fill="#e2e2e2"/><rect x="1" y="150" width="2" height="1" fill="#b4b4b4"/><rect x="1" y="151" width="1" height="1" fill="#c2c2c2"/><rect x="2" y="151" width="1" height="1" fill="#e2e2e2"/></svg>
<div id="panel" class="abs">
 <div style="position:absolute;left:8px;top:9px;font-size:18px;font-weight:bold;line-height:22px;letter-spacing:0.68px">Processing resources manager</div>
 <div style="position:absolute;left:7.5px;top:50px;width:430px;font-size:15px;line-height:20px">Check/uncheck algorithms in the tree to select the ones that you want to install or remove</div>
 <div style="position:absolute;left:7.5px;top:106px;font-size:15px;line-height:20px;letter-spacing:-0.08px">Algorithms are divided in 3 groups:</div>
 <div class="li" style="top:142px"><b>Installed:</b> Algorithms already in your system, with the latest</div>
 <div class="li" style="top:162px">version available</div>
 <div class="li" style="top:182px"><b>Upgradable:</b> Algorithms already in your system, but with a</div>
 <div class="li" style="top:202px">newer version available in the server</div>
 <div class="li" style="top:222px"><b>Not installed:</b> Algorithms not installed in your system</div>
 <div class="bul" style="top:150px"></div><div class="bul" style="top:189px"></div><div class="bul" style="top:229px"></div>
</div>
<div id="prog" class="abs"><div class="chunk"></div><div style="position:absolute;left:288px;top:4px;font-size:11.5px;font-weight:bold;line-height:12px;color:#000">0</div><div style="position:absolute;left:294.5px;top:4px;font-size:11.5px;font-weight:bold;line-height:12px;color:#000;transform:scaleX(1.16);transform-origin:0 0">%</div></div>
<div class="btn" style="left:663px;top:517px;width:75px;border-color:#707070">OK</div>
<div class="btn" style="left:748px;top:517px;width:75px">Cancel</div>
</body></html>
